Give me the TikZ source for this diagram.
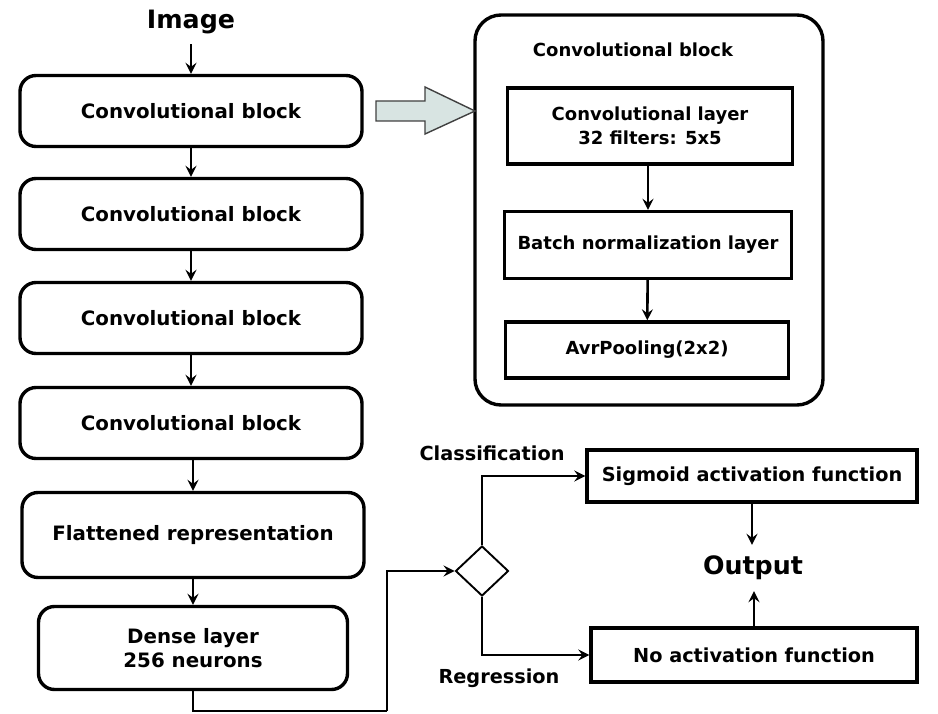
\documentclass[tikz,border=0pt]{standalone}
\usepackage{fontspec}
\setmainfont{DejaVu Sans}
\usetikzlibrary{arrows.meta,shapes.geometric}
\definecolor{arrowfill}{RGB}{216,228,226}
\tikzset{
  lbl/.style={font=\bfseries\fontsize{#1}{24}\selectfont, align=center, inner sep=0pt},
  lbl/.default=19.3,
  big/.style={font=\bfseries\fontsize{25.3}{30}\selectfont, inner sep=0pt},
  rbox/.style={draw, line width=3.4pt, rounded corners=16pt, lbl=19.8},
  sbox/.style={draw, line width=3.4pt, lbl=#1},
  sbox/.default=19.3,
  arr/.style={line width=2.6pt, -{Stealth[length=11pt,width=11pt,inset=4pt]}},
}
\begin{document}
\begin{tikzpicture}[x=1pt,y=-1pt]
\useasboundingbox (0,0) rectangle (938,714);

% main pipeline
\node[big, minimum height=44pt] (img) at (191,22) {Image};
\node[rbox, minimum width=342pt, minimum height=71pt] (b1) at (191,111) {Convolutional block};
\node[rbox, minimum width=342pt, minimum height=71pt] (b2) at (191,214) {Convolutional block};
\node[rbox, minimum width=342pt, minimum height=71pt] (b3) at (191,318) {Convolutional block};
\node[rbox, minimum width=342pt, minimum height=71pt] (b4) at (191,423) {Convolutional block};
\node[rbox, minimum width=342pt, minimum height=85pt] (flat) at (193,535) {Flattened representation};
\node[rbox, minimum width=309pt, minimum height=83pt] (dense) at (193,648) {Dense layer\\256 neurons};

\draw[arr] (img) -- (b1);
\draw[arr] (b1) -- (b2);
\draw[arr] (b2) -- (b3);
\draw[arr] (b3) -- (b4);
\draw[arr] (b4.south -| flat.north) -- (flat.north);
\draw[arr] (flat) -- (dense);

% expanded view of one convolutional block
\node[draw, line width=3.4pt, rounded corners=26pt, minimum width=348pt, minimum height=390pt] (panel) at (649,210) {};
\node[lbl=18] (ptitle) at (633,50) {Convolutional block};
\node[sbox=18, minimum width=285pt, minimum height=76pt] (conv) at (650,126) {Convolutional layer\\32 filters: 5x5};
\node[sbox=18, minimum width=287pt, minimum height=67pt] (bn) at (648,245) {Batch normalization layer};
\node[sbox=18, minimum width=283pt, minimum height=56pt] (pool) at (647,350) {AvrPooling(2x2)};
\draw[arr] (conv.south -| bn.north) -- (bn.north);
\draw[arr] (bn) -- (pool);

% block arrow pointing to the expanded view
\draw[line width=1.4pt, draw=black!75, fill=arrowfill]
  (376,101) -- (425,101) -- (425,87) -- (475,111) -- (425,134) -- (425,121) -- (376,121) -- cycle;

% task-dependent head
\node[draw, diamond, line width=1.9pt, minimum width=53pt, minimum height=50pt, inner sep=0pt, aspect=1.06] (dia) at (482,571) {};
\node[sbox, minimum width=330pt, minimum height=52pt] (sig) at (752,476) {Sigmoid activation function};
\node[sbox, minimum width=326pt, minimum height=54pt] (noact) at (754,655) {No activation function};
\node[big, minimum height=46pt] (out) at (753,568) {Output};
\node[lbl] (cls) at (492,453) {Classification};
\node[lbl] (reg) at (499,678) {Regression};

\coordinate (turn) at (387,711);
\draw[line width=2.6pt] (dense.south) |- (turn);
\draw[arr] (turn) |- (dia.west);
\draw[arr] (dia.north) |- (sig.west);
\draw[arr] (dia.south) |- (noact.west);
\draw[arr] (sig.south) -- (sig.south |- out.north);
\draw[arr] (noact.north) -- (noact.north |- out.south);
\end{tikzpicture}
\end{document}
